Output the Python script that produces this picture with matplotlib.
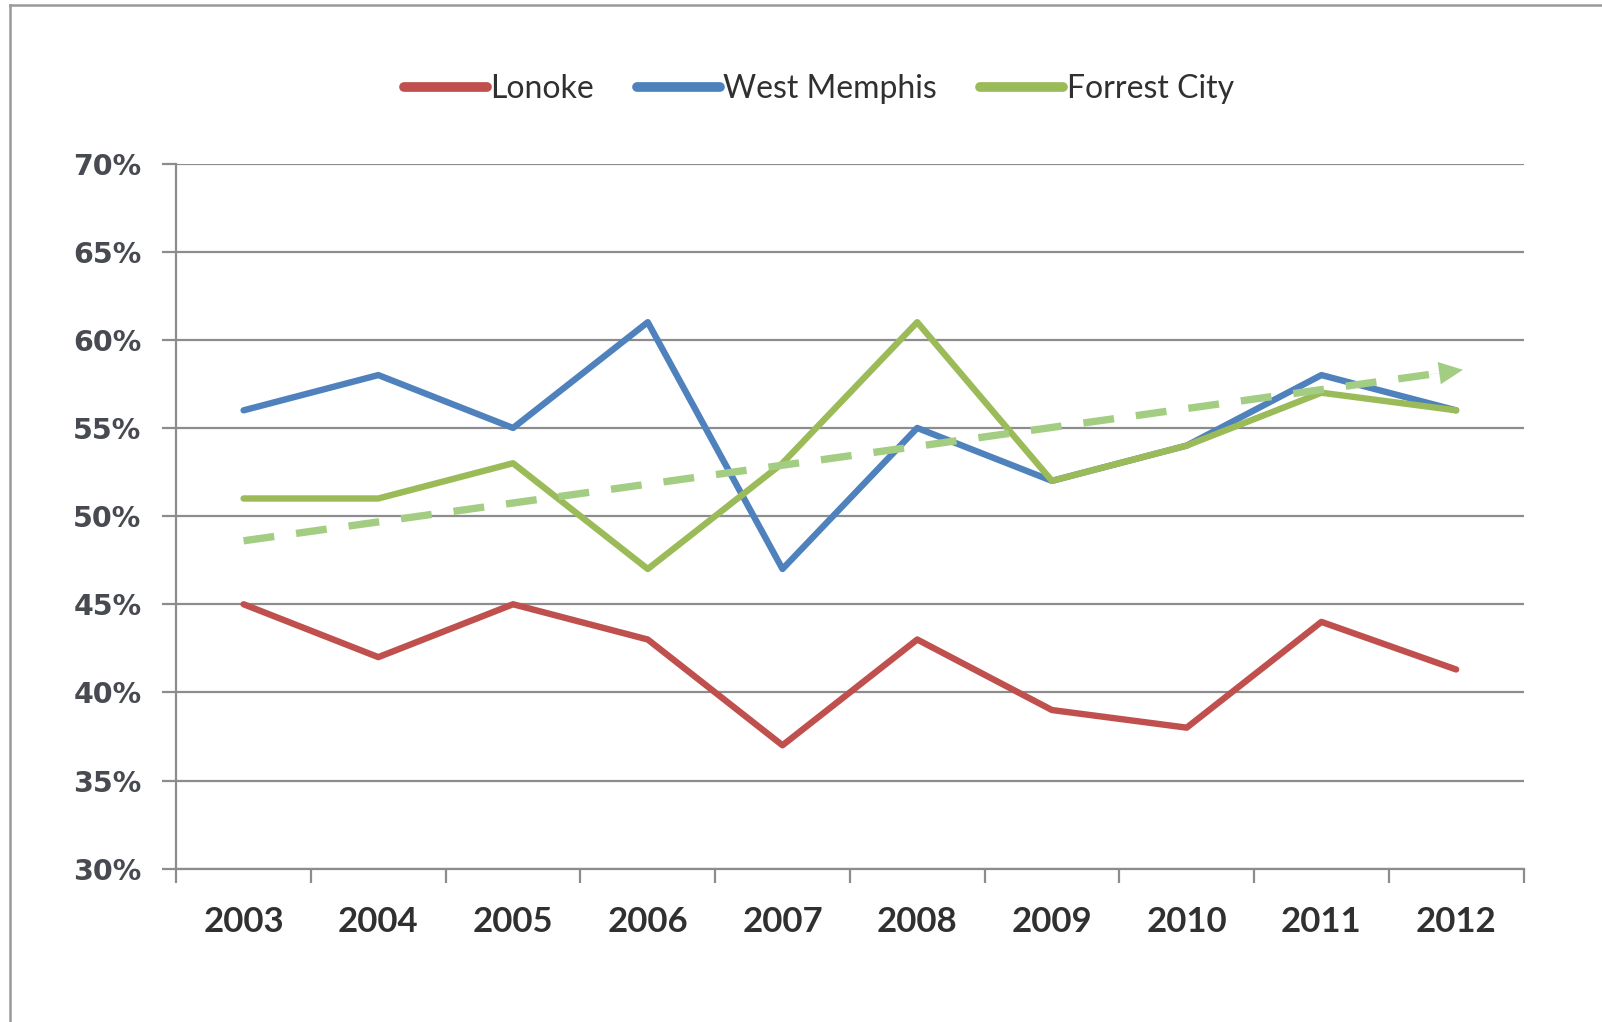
import numpy as np
import matplotlib.pyplot as plt
from matplotlib.lines import Line2D

years = ['2003', '2004', '2005', '2006', '2007', '2008', '2009', '2010', '2011', '2012']
lonoke = [45, 42, 45, 43, 37, 43, 39, 38, 44, 41.3]
west_memphis = [56, 58, 55, 61, 47, 55, 52, 54, 58, 56]
forrest_city = [51, 51, 53, 47, 53, 61, 52, 54, 57, 56]
trend_x = [0, 9.05]
trend_y = [48.6, 58.3]

plt.rcParams['font.family'] = ['Lato', 'DejaVu Sans']

fig = plt.figure(figsize=(16.02, 10.22), dpi=100)
ax = fig.add_axes([0.110, 0.150, 0.841, 0.690])

x = np.arange(len(years))
ax.plot(x, lonoke, color='#c0504d', lw=4.6, label='Lonoke', solid_capstyle='round')
ax.plot(x, west_memphis, color='#4f81bd', lw=4.6, label='West Memphis', solid_capstyle='round')
ax.plot(x, forrest_city, color='#9bbb59', lw=4.6, label='Forrest City', solid_capstyle='round')

# dashed trend line with a solid head
tcol = '#a3cd82'
frac = 0.985
ax.plot([trend_x[0], trend_x[0] + frac * (trend_x[1] - trend_x[0])],
        [trend_y[0], trend_y[0] + frac * (trend_y[1] - trend_y[0])],
        color=tcol, lw=5.3, dashes=(4.2, 3.0), solid_capstyle='butt')
back = 0.03
ax.annotate('', xy=(trend_x[1], trend_y[1]),
            xytext=(trend_x[1] - back * (trend_x[1] - trend_x[0]),
                    trend_y[1] - back * (trend_y[1] - trend_y[0])),
            arrowprops=dict(arrowstyle='-|>,head_length=1.7,head_width=0.8',
                            color=tcol, lw=0.1, shrinkA=0, shrinkB=0))

ax.set_xlim(-0.5, 9.5)
ax.set_ylim(30, 70)
ax.set_yticks(range(30, 71, 5))
ax.set_yticklabels([f'{v}%' for v in range(30, 71, 5)], family='DejaVu Sans')
ax.set_xticks(x)
ax.set_xticklabels(years)
ax.set_xticks(np.arange(-0.5, 10, 1), minor=True)

ax.grid(axis='y', color='#8c8c8c', lw=1.6)
ax.set_axisbelow(True)
for s in ['top', 'right']:
    ax.spines[s].set_visible(False)
for s in ['left', 'bottom']:
    ax.spines[s].set_color('#8c8c8c')
    ax.spines[s].set_linewidth(1.6)

ax.tick_params(axis='y', length=10, width=1.6, color='#8c8c8c', pad=15,
               labelsize=20.5, labelcolor='#474a50')
ax.tick_params(axis='x', which='major', length=0, pad=27,
               labelsize=25, labelcolor='#303030')
ax.tick_params(axis='x', which='minor', length=10, width=1.6, color='#8c8c8c')
for lab in ax.get_yticklabels() + ax.get_xticklabels():
    lab.set_fontweight('bold')

leg = ax.legend(loc='center', bbox_to_anchor=(0.477, 1.105), ncol=3, frameon=False,
                fontsize=23, handlelength=2.6, handletextpad=0.1, columnspacing=1.35)
for t in leg.get_texts():
    t.set_color('#303030')
for h in leg.get_lines():
    h.set_linewidth(7)

# outer frame
fig.add_artist(Line2D([0.0065, 0.0065], [0, 0.995], color='#999999', lw=1.8))
fig.add_artist(Line2D([0.0065, 1.0], [0.995, 0.995], color='#999999', lw=1.8))

fig.savefig('out.png', dpi=100)
